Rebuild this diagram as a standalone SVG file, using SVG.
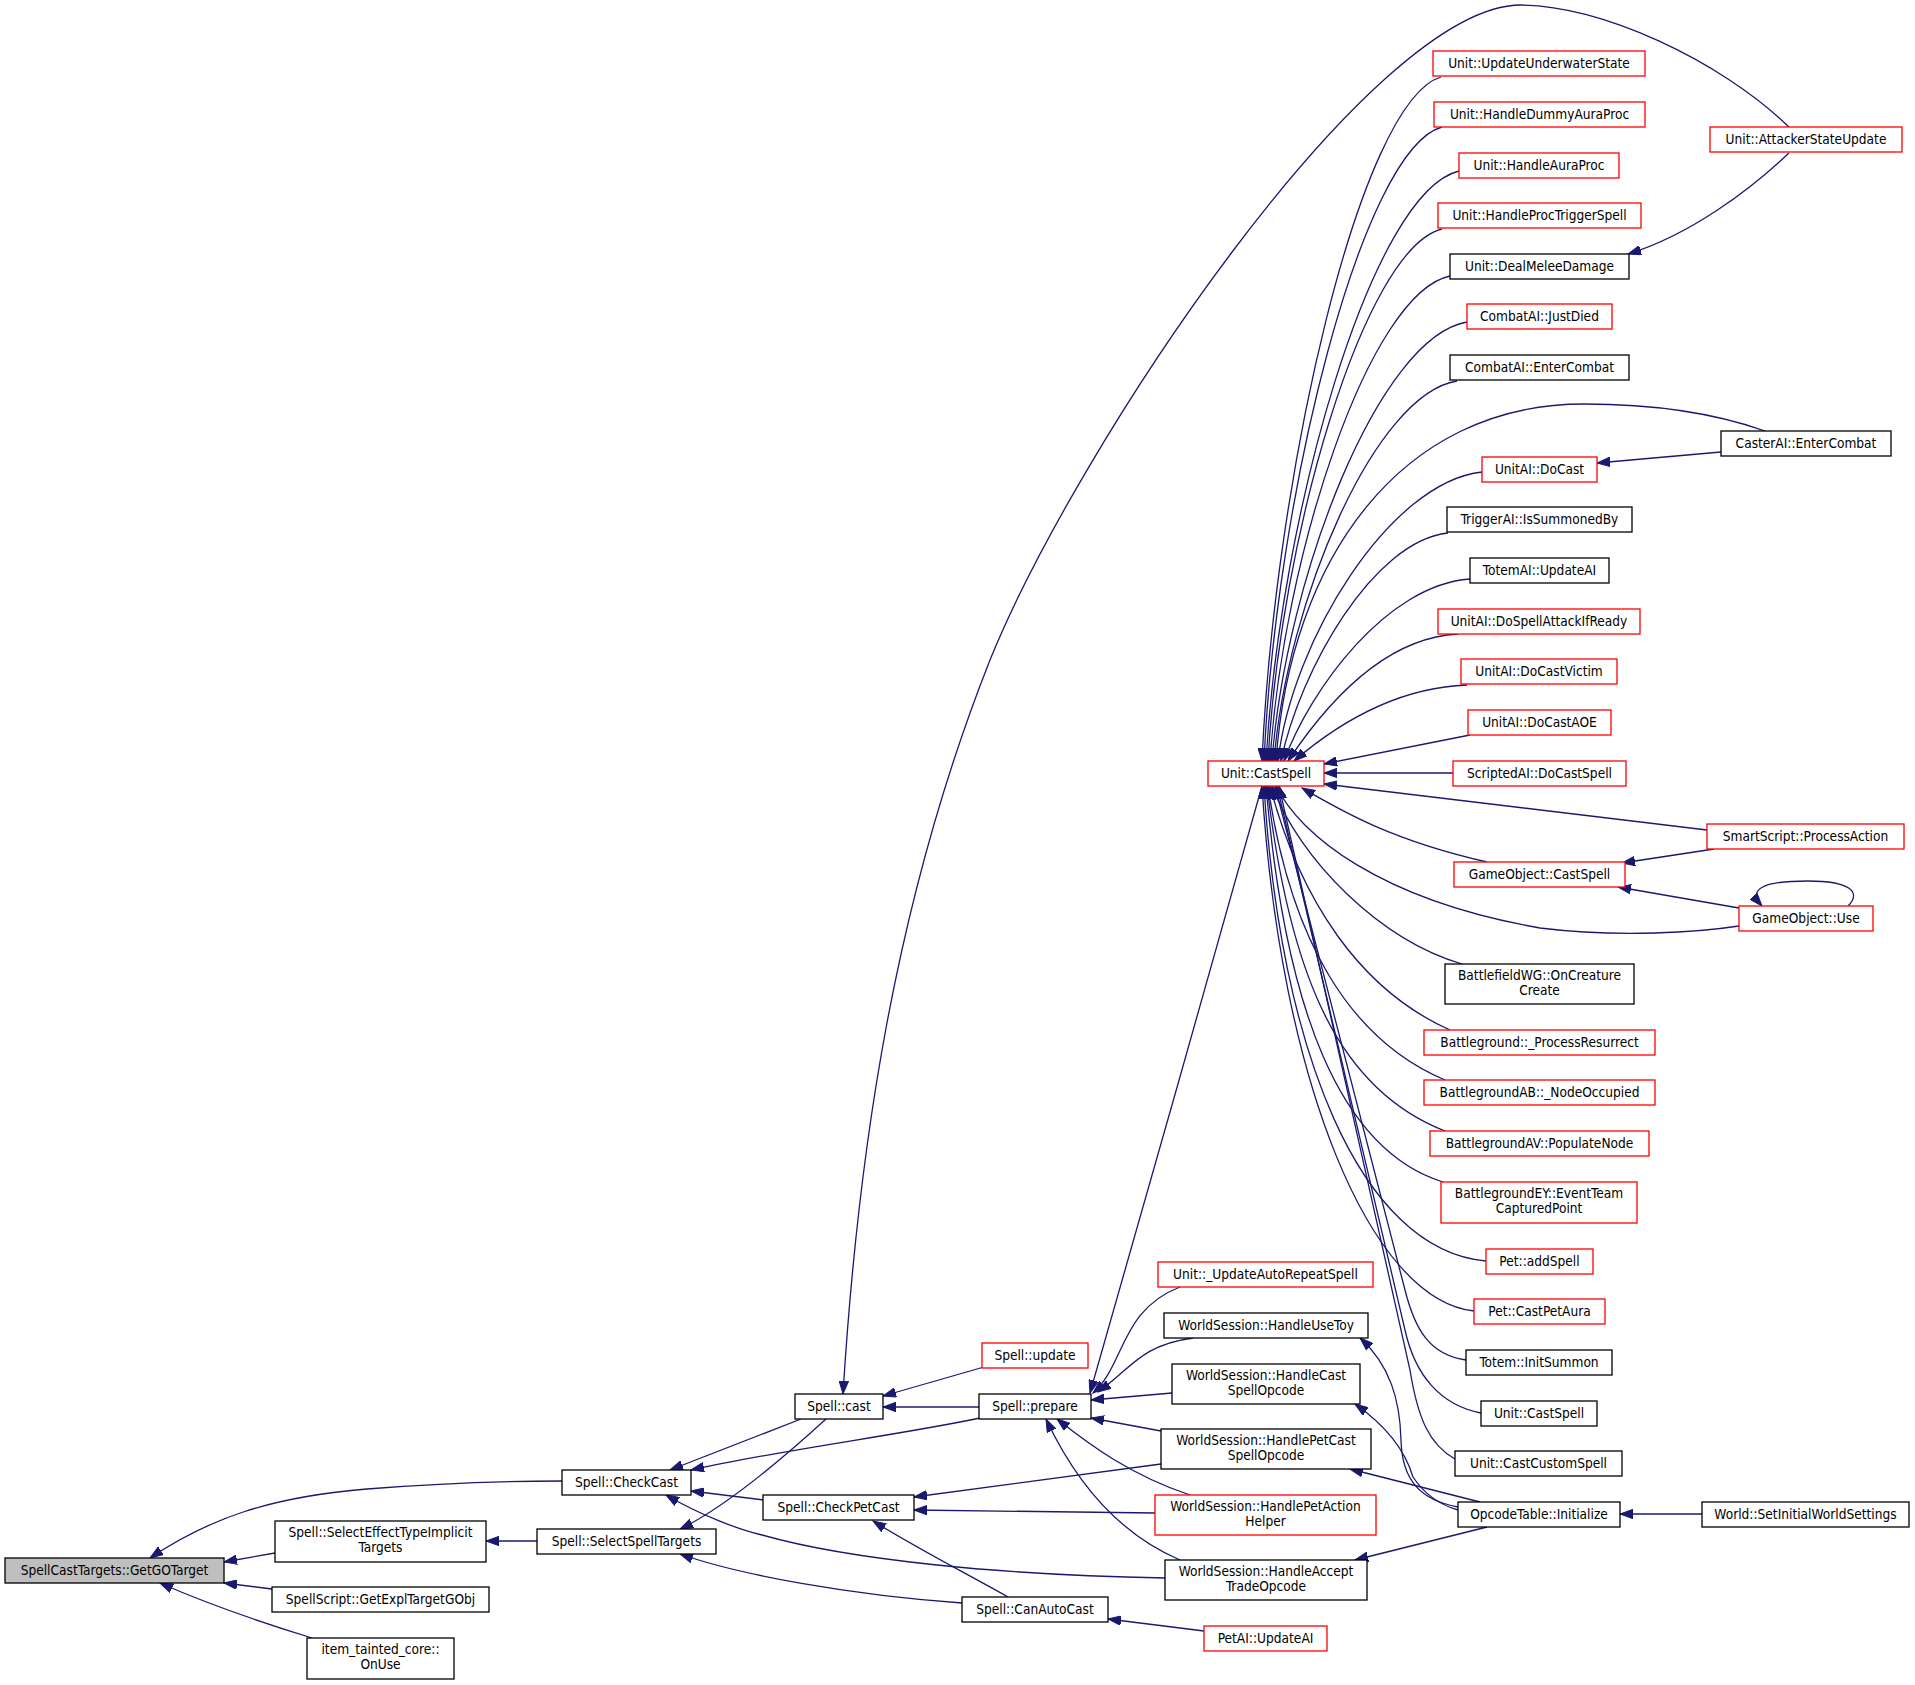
<svg xmlns="http://www.w3.org/2000/svg" width="1915" height="1685" viewBox="0 0 1915 1685">
<style>
.n rect{fill:#fff;stroke:#000;stroke-width:1.3}
.r rect{fill:#fff;stroke:#f00;stroke-width:1.3}
.root rect{fill:#bfbfbf;stroke:#000;stroke-width:1.3}
text{font-family:'DejaVu Sans Condensed','DejaVu Sans',sans-serif;font-stretch:condensed;font-size:13.6px;text-anchor:middle;fill:#000}
.e path{fill:none;stroke:#191970;stroke-width:1.3;marker-start:url(#a)}
</style>
<defs>
<marker id="a" markerUnits="userSpaceOnUse" markerWidth="14" markerHeight="10" refX="13" refY="5" orient="auto-start-reverse" viewBox="0 0 14 10">
<path d="M0,0.3 L13,5 L0,9.7 z" fill="#191970" stroke="#191970" stroke-width="1"/>
</marker>
</defs>
<rect x="0" y="0" width="1915" height="1685" fill="#fff"/>
<g class="e" id="edges">
<path d="M150,1558 C210,1518 270,1497 367,1489 C430,1484 500,1481 562,1481"/>
<path d="M224,1562 L275,1553"/>
<path d="M224,1583 L272,1589"/>
<path d="M160,1583 C210,1605 260,1622 312,1638"/>
<path d="M486,1541 L537,1541"/>
<path d="M670,1470 L801,1419"/>
<path d="M691,1470 C780,1450 900,1435 980,1418"/>
<path d="M691,1491 L764,1500"/>
<path d="M666,1495 C700,1515 740,1530 762,1535 C850,1560 1000,1575 1165,1578"/>
<path d="M680,1529 C720,1510 770,1470 826,1419"/>
<path d="M680,1554 C740,1575 850,1595 962,1603"/>
<path d="M883,1396 L984,1367"/>
<path d="M883,1407 L979,1407"/>
<path d="M843,1394 C858,1150 895,900 990,660 C1075,450 1370,5 1521,5 C1600,5 1720,60 1789,127"/>
<path d="M914,1497 L1161,1464"/>
<path d="M914,1510 L1155,1513"/>
<path d="M873,1521 C920,1550 960,1570 1008,1597"/>
<path d="M1108,1619 L1204,1631"/>
<path d="M1090,1393 C1120,1290 1230,900 1262,786"/>
<path d="M1093,1393 C1125,1365 1120,1310 1180,1287"/>
<path d="M1098,1392 C1130,1370 1140,1345 1193,1338"/>
<path d="M1091,1400 L1172,1393"/>
<path d="M1091,1418 L1161,1431"/>
<path d="M1057,1419 C1090,1445 1130,1475 1190,1495"/>
<path d="M1046,1419 C1070,1470 1110,1530 1180,1560"/>
<path d="M1262,761 C1275,474 1360,101 1441,77"/>
<path d="M1264,761 C1276,495 1362,149 1442,127"/>
<path d="M1266,761 C1280,513 1372,192 1459,171"/>
<path d="M1268,761 C1280,538 1364,248 1442,229"/>
<path d="M1270,761 C1283,557 1369,293 1450,276"/>
<path d="M1272,761 C1286,577 1379,337 1467,322"/>
<path d="M1274,761 C1287,601 1375,394 1457,381"/>
<path d="M1276,761 C1290,560 1400,404 1584,404 C1660,404 1720,415 1765,431"/>
<path d="M1278,761 C1292,640 1390,482 1482,472"/>
<path d="M1281,761 C1300,670 1373,541 1448,533"/>
<path d="M1284,761 C1310,690 1386,585 1470,579"/>
<path d="M1288,761 C1322,710 1381,638 1458,634"/>
<path d="M1294,761 C1329,731 1389,688 1467,685"/>
<path d="M1324,764 L1470,735"/>
<path d="M1324,773 L1453,773"/>
<path d="M1324,784 L1707,830"/>
<path d="M1302,788 C1340,810 1390,840 1487,862"/>
<path d="M1276,786 C1300,835 1380,900 1540,928 C1620,938 1700,932 1739,926"/>
<path d="M1272,786 C1300,860 1380,940 1462,964"/>
<path d="M1270,786 C1300,900 1360,990 1450,1030"/>
<path d="M1268,786 C1290,940 1350,1040 1445,1080"/>
<path d="M1267,786 C1290,980 1340,1090 1445,1131"/>
<path d="M1266,786 C1285,1010 1340,1150 1443,1182"/>
<path d="M1264,786 C1280,1050 1360,1250 1486,1261"/>
<path d="M1262,786 C1280,1080 1370,1300 1474,1311"/>
<path d="M1275,786 L1405,1290 C1415,1330 1430,1355 1466,1360"/>
<path d="M1277,786 L1405,1330 C1415,1375 1440,1405 1481,1413"/>
<path d="M1279,786 L1410,1370 C1418,1420 1430,1445 1455,1459"/>
<path d="M1628,254 C1690,235 1750,190 1789,153"/>
<path d="M1597,463 L1721,452"/>
<path d="M1622,863 L1714,849"/>
<path d="M1618,887 L1739,908"/>
<path d="M1762,906 C1748,890 1760,881 1808,881 C1850,881 1862,892 1848,906"/>
<path d="M1360,1338 C1390,1365 1400,1400 1401,1440 C1402,1480 1420,1500 1458,1507"/>
<path d="M1355,1404 C1385,1425 1405,1450 1413,1477 C1425,1495 1440,1505 1458,1510"/>
<path d="M1350,1469 L1480,1502"/>
<path d="M1355,1560 L1487,1527"/>
<path d="M1620,1514 L1702,1514"/>
</g>
<g id="n0" class="root"><rect x="5" y="1558" width="219" height="25"/><text x="114.5" y="1575">SpellCastTargets::GetGOTarget</text></g>
<g id="n1" class="n"><rect x="275" y="1521" width="211" height="41"/><text x="380.5" y="1537">Spell::SelectEffectTypeImplicit</text><text x="380.5" y="1552">Targets</text></g>
<g id="n2" class="n"><rect x="272" y="1587" width="217" height="25"/><text x="380.5" y="1604">SpellScript::GetExplTargetGObj</text></g>
<g id="n3" class="n"><rect x="307" y="1638" width="147" height="41"/><text x="380.5" y="1654">item_tainted_core::</text><text x="380.5" y="1669">OnUse</text></g>
<g id="n4" class="n"><rect x="562" y="1470" width="129" height="25"/><text x="626.5" y="1487">Spell::CheckCast</text></g>
<g id="n5" class="n"><rect x="537" y="1529" width="179" height="25"/><text x="626.5" y="1546">Spell::SelectSpellTargets</text></g>
<g id="n6" class="n"><rect x="795" y="1394" width="88" height="25"/><text x="839" y="1411">Spell::cast</text></g>
<g id="n7" class="n"><rect x="763" y="1495" width="151" height="25"/><text x="838.5" y="1512">Spell::CheckPetCast</text></g>
<g id="n8" class="n"><rect x="962" y="1597" width="146" height="25"/><text x="1035" y="1614">Spell::CanAutoCast</text></g>
<g id="n9" class="r"><rect x="982" y="1343" width="106" height="25"/><text x="1035" y="1360">Spell::update</text></g>
<g id="n10" class="n"><rect x="979" y="1394" width="112" height="25"/><text x="1035" y="1411">Spell::prepare</text></g>
<g id="n11" class="r"><rect x="1208" y="761" width="116" height="25"/><text x="1266" y="778">Unit::CastSpell</text></g>
<g id="n12" class="r"><rect x="1158" y="1262" width="215" height="25"/><text x="1265.5" y="1279">Unit::_UpdateAutoRepeatSpell</text></g>
<g id="n13" class="n"><rect x="1164" y="1313" width="204" height="25"/><text x="1266" y="1330">WorldSession::HandleUseToy</text></g>
<g id="n14" class="n"><rect x="1172" y="1364" width="188" height="40"/><text x="1266" y="1380">WorldSession::HandleCast</text><text x="1266" y="1395">SpellOpcode</text></g>
<g id="n15" class="n"><rect x="1161" y="1429" width="210" height="40"/><text x="1266" y="1445">WorldSession::HandlePetCast</text><text x="1266" y="1460">SpellOpcode</text></g>
<g id="n16" class="r"><rect x="1155" y="1495" width="221" height="40"/><text x="1265.5" y="1511">WorldSession::HandlePetAction</text><text x="1265.5" y="1526">Helper</text></g>
<g id="n17" class="n"><rect x="1165" y="1560" width="202" height="40"/><text x="1266" y="1576">WorldSession::HandleAccept</text><text x="1266" y="1591">TradeOpcode</text></g>
<g id="n18" class="r"><rect x="1204" y="1626" width="123" height="25"/><text x="1265.5" y="1643">PetAI::UpdateAI</text></g>
<g id="n19" class="r"><rect x="1433" y="51" width="212" height="25"/><text x="1539" y="68">Unit::UpdateUnderwaterState</text></g>
<g id="n20" class="r"><rect x="1434" y="102" width="211" height="25"/><text x="1539.5" y="119">Unit::HandleDummyAuraProc</text></g>
<g id="n21" class="r"><rect x="1459" y="153" width="160" height="25"/><text x="1539" y="170">Unit::HandleAuraProc</text></g>
<g id="n22" class="r"><rect x="1438" y="203" width="203" height="25"/><text x="1539.5" y="220">Unit::HandleProcTriggerSpell</text></g>
<g id="n23" class="n"><rect x="1450" y="254" width="179" height="25"/><text x="1539.5" y="271">Unit::DealMeleeDamage</text></g>
<g id="n24" class="r"><rect x="1467" y="304" width="145" height="25"/><text x="1539.5" y="321">CombatAI::JustDied</text></g>
<g id="n25" class="n"><rect x="1450" y="355" width="179" height="25"/><text x="1539.5" y="372">CombatAI::EnterCombat</text></g>
<g id="n26" class="r"><rect x="1482" y="457" width="115" height="25"/><text x="1539.5" y="474">UnitAI::DoCast</text></g>
<g id="n27" class="n"><rect x="1447" y="507" width="185" height="25"/><text x="1539.5" y="524">TriggerAI::IsSummonedBy</text></g>
<g id="n28" class="n"><rect x="1470" y="558" width="139" height="25"/><text x="1539.5" y="575">TotemAI::UpdateAI</text></g>
<g id="n29" class="r"><rect x="1438" y="609" width="202" height="25"/><text x="1539" y="626">UnitAI::DoSpellAttackIfReady</text></g>
<g id="n30" class="r"><rect x="1461" y="659" width="156" height="25"/><text x="1539" y="676">UnitAI::DoCastVictim</text></g>
<g id="n31" class="r"><rect x="1468" y="710" width="143" height="25"/><text x="1539.5" y="727">UnitAI::DoCastAOE</text></g>
<g id="n32" class="r"><rect x="1453" y="761" width="173" height="25"/><text x="1539.5" y="778">ScriptedAI::DoCastSpell</text></g>
<g id="n33" class="r"><rect x="1454" y="862" width="171" height="25"/><text x="1539.5" y="879">GameObject::CastSpell</text></g>
<g id="n34" class="n"><rect x="1445" y="964" width="189" height="40"/><text x="1539.5" y="980">BattlefieldWG::OnCreature</text><text x="1539.5" y="995">Create</text></g>
<g id="n35" class="r"><rect x="1424" y="1030" width="231" height="25"/><text x="1539.5" y="1047">Battleground::_ProcessResurrect</text></g>
<g id="n36" class="r"><rect x="1424" y="1080" width="231" height="25"/><text x="1539.5" y="1097">BattlegroundAB::_NodeOccupied</text></g>
<g id="n37" class="r"><rect x="1430" y="1131" width="219" height="25"/><text x="1539.5" y="1148">BattlegroundAV::PopulateNode</text></g>
<g id="n38" class="r"><rect x="1441" y="1182" width="196" height="41"/><text x="1539" y="1198">BattlegroundEY::EventTeam</text><text x="1539" y="1213">CapturedPoint</text></g>
<g id="n39" class="r"><rect x="1486" y="1249" width="107" height="25"/><text x="1539.5" y="1266">Pet::addSpell</text></g>
<g id="n40" class="r"><rect x="1474" y="1299" width="131" height="25"/><text x="1539.5" y="1316">Pet::CastPetAura</text></g>
<g id="n41" class="n"><rect x="1466" y="1350" width="146" height="25"/><text x="1539" y="1367">Totem::InitSummon</text></g>
<g id="n42" class="n"><rect x="1481" y="1401" width="116" height="25"/><text x="1539" y="1418">Unit::CastSpell</text></g>
<g id="n43" class="n"><rect x="1455" y="1451" width="167" height="25"/><text x="1538.5" y="1468">Unit::CastCustomSpell</text></g>
<g id="n44" class="n"><rect x="1458" y="1502" width="162" height="25"/><text x="1539" y="1519">OpcodeTable::Initialize</text></g>
<g id="n45" class="r"><rect x="1710" y="127" width="192" height="25"/><text x="1806" y="144">Unit::AttackerStateUpdate</text></g>
<g id="n46" class="n"><rect x="1721" y="431" width="170" height="25"/><text x="1806" y="448">CasterAI::EnterCombat</text></g>
<g id="n47" class="r"><rect x="1707" y="824" width="197" height="25"/><text x="1805.5" y="841">SmartScript::ProcessAction</text></g>
<g id="n48" class="r"><rect x="1739" y="906" width="134" height="25"/><text x="1806" y="923">GameObject::Use</text></g>
<g id="n49" class="n"><rect x="1702" y="1502" width="207" height="25"/><text x="1805.5" y="1519">World::SetInitialWorldSettings</text></g>
</svg>
